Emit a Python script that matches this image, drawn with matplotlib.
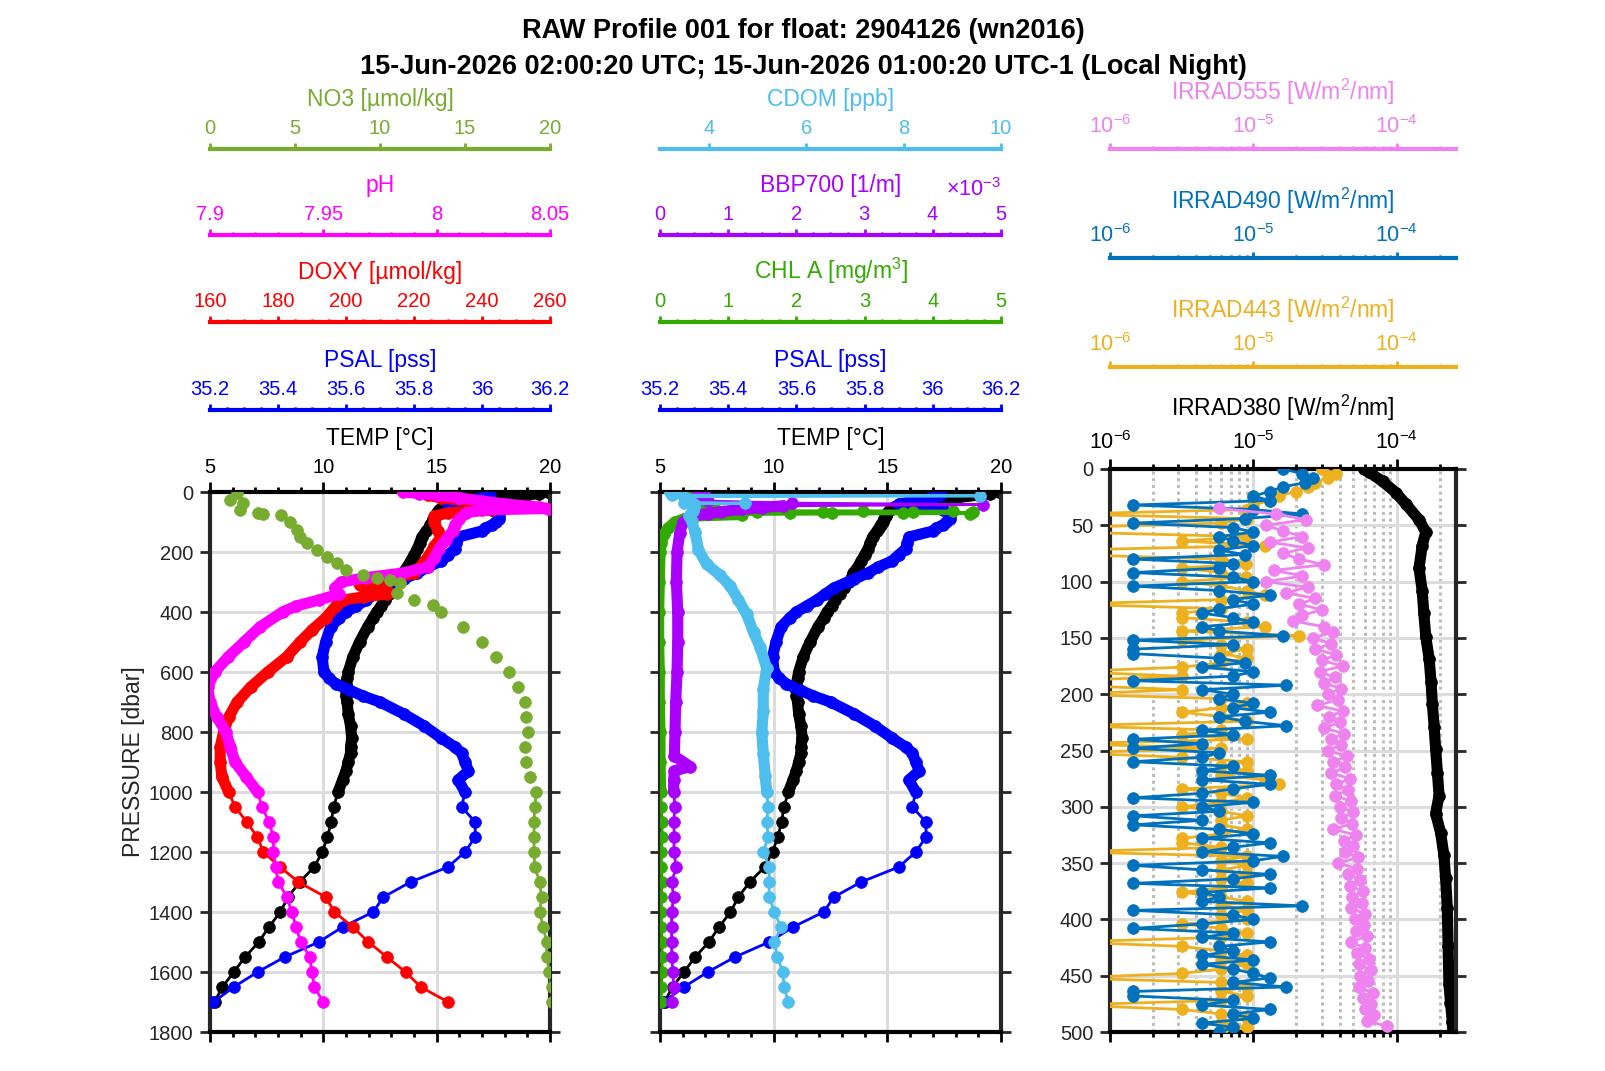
import numpy as np
import matplotlib
matplotlib.use('Agg')
import matplotlib.pyplot as plt
from matplotlib.ticker import (MultipleLocator, FuncFormatter, ScalarFormatter,
                               LogLocator, NullFormatter)

plt.rcParams['font.family'] = ['Liberation Sans', 'DejaVu Sans']
plt.rcParams['mathtext.fontset'] = 'custom'
plt.rcParams['mathtext.rm'] = 'Liberation Sans'
plt.rcParams['mathtext.it'] = 'Liberation Sans:italic'
plt.rcParams['mathtext.bf'] = 'Liberation Sans:bold'

TITLE1 = 'RAW Profile 001 for float: 2904126 (wn2016)'
TITLE2 = '15-Jun-2026 02:00:20 UTC; 15-Jun-2026 01:00:20 UTC-1 (Local Night)'

# ---------------- data ----------------
PRES_CTD = [0, 5, 10, 20, 30, 40, 50, 60, 70, 80, 90, 100, 110, 120, 130, 150, 170, 190,
            210, 230, 250, 270, 290, 300, 320, 340, 360, 380, 400, 420, 450, 500, 550,
            600, 620, 640, 660, 680, 700, 740, 780, 820, 850, 870, 900, 930, 960, 1000,
            1050, 1100, 1150, 1200, 1250, 1300, 1350, 1400, 1450, 1500, 1550, 1600, 1650, 1700]
TEMP = [19.9, 19.5, 19.0, 18.0, 17.0, 16.0, 15.3, 15.1, 15.0, 14.95,
        14.85, 14.8, 14.7, 14.65, 14.55, 14.35, 14.25, 14.15,
        14.0, 13.85, 13.7, 13.5, 13.4, 13.3, 13.1, 12.9, 12.7, 12.55,
        12.35, 12.2, 11.95, 11.6, 11.3,
        11.1, 11.05, 11.0, 11.0, 11.0, 11.05,
        11.1, 11.2, 11.25, 11.2, 11.2, 11.1, 11.0, 10.85, 10.65,
        10.45, 10.35, 10.18, 9.95, 9.6, 8.95, 8.45, 8.1, 7.6, 7.15, 6.55, 6.05, 5.55, 5.2]
PSAL = [36.01, 36.02, 36.02, 36.00, 35.95, 35.90, 35.98, 36.03, 36.05, 36.05,
        36.05, 36.04, 36.03, 36.01, 36.0, 35.93, 35.925, 35.92,
        35.9, 35.88, 35.84, 35.81, 35.77, 35.75, 35.71, 35.685, 35.66, 35.63,
        35.60, 35.58, 35.555, 35.54, 35.53,
        35.535, 35.55, 35.57, 35.61, 35.65, 35.70,
        35.77, 35.83, 35.88, 35.92, 35.94, 35.95, 35.96, 35.93, 35.95,
        35.94, 35.98, 35.98, 35.95, 35.90, 35.79, 35.71, 35.68, 35.59, 35.52, 35.42, 35.34,
        35.27, 35.21]

PRES_DOXY = [0, 10, 20, 30, 40, 50, 60, 70, 80, 100, 130, 150, 180, 210, 240, 270,
             290, 300, 310, 320, 330, 340, 350, 360, 380, 420, 460, 500, 550, 600, 650,
             700, 750, 800, 850, 900, 950, 1000,
             1050, 1100, 1150, 1200, 1250, 1300, 1350, 1400, 1450, 1500, 1550, 1600, 1650, 1700]
DOXY = [222, 224, 228, 236, 245, 250, 243, 230, 226, 226, 227, 228, 226, 224.5, 222.5, 220,
        214, 208, 204, 206, 212, 212, 205, 199, 197, 194, 190, 186.5, 182.5, 177, 172,
        168, 165.5, 164, 163, 163, 163.5, 165.5,
        167.4, 170.8, 173.9, 175.7, 180.6, 186, 194, 196.6, 202, 206.6, 212, 217.5, 222, 230]

PRES_PH = [0, 5, 10, 20, 30, 40, 50, 55, 60, 70, 90, 110, 130, 160, 190, 220, 250, 270,
           285, 300, 320, 340, 360, 380, 400, 450, 500, 550, 600, 650, 700, 750, 800, 850,
           900, 950, 1000,
           1050, 1100, 1150, 1200, 1250, 1300, 1350, 1400, 1450, 1500, 1550, 1600, 1650, 1700]
PH = [7.985, 7.992, 8.0, 8.01, 8.02, 8.03, 8.045, 8.049, 8.02, 8.013,
      8.01, 8.008, 8.007, 8.004, 8.001, 7.999, 7.996, 7.985, 7.969, 7.958,
      7.955, 7.957, 7.948, 7.938, 7.932, 7.922, 7.915, 7.908, 7.902, 7.899,
      7.9, 7.903, 7.907, 7.909, 7.911, 7.916, 7.921,
      7.923, 7.926, 7.928, 7.928, 7.929, 7.93, 7.934, 7.936, 7.938, 7.94, 7.944, 7.945,
      7.946, 7.95]

PRES_NO3 = [4, 27, 37, 60, 69, 72, 77, 99, 127, 149, 171, 193, 216, 238, 260, 277, 288, 293,
            304, 338, 361, 378, 400, 450, 500, 550, 600, 650, 700, 750, 800, 850, 900, 950,
            1000, 1050, 1100, 1150, 1200, 1250, 1300, 1350, 1400, 1450, 1500, 1550, 1600,
            1650, 1700]
NO3 = [1.57, 1.18, 1.96, 1.76, 2.84, 3.1, 4.2, 4.7, 5.1, 5.3,
       5.7, 6.3, 6.9, 7.45, 8.0, 9.0, 9.8, 10.6, 11.2, 10.98,
       12.0, 13.1, 13.6, 14.9, 16.0, 16.8, 17.6, 18.1, 18.5, 18.6,
       18.7, 18.5, 18.6, 18.8, 19.2,
       19.1, 19.06, 19.06, 19.06, 19.1, 19.4, 19.5, 19.4, 19.6, 19.8, 19.8, 19.96, 20.1, 20.1]

PRES_CHL = [0, 5, 10, 20, 30, 40, 50, 58, 62, 63, 64, 65, 66, 67, 68, 69, 70, 71, 72,
            75, 80, 90, 100, 120, 140, 170, 200, 300, 400, 500, 600, 700, 800, 900, 1000,
            1050, 1100, 1150, 1200, 1250, 1300, 1350, 1400, 1450, 1500, 1550, 1600, 1650, 1700]
CHLA = [0.3, 0.35, 0.4, 0.45, 0.5, 0.55, 0.6, 0.8,
        1.07, 2.98, 4.3, 1.42, 3.71, 2.39, 4.59, 1.91, 3.56, 2.52, 4.55,
        1.2, 0.5, 0.35, 0.22, 0.12, 0.06, 0.02, 0.0,
        -0.01, -0.02, -0.02, -0.01, -0.01, 0.0, 0.0, 0.01,
        0.02, 0.03, 0.03, 0.02, 0.02, 0.03, 0.02, 0.02, 0.02, 0.03, 0.03, 0.03, 0.02, 0.02]

PRES_BBP = [0, 5, 10, 20, 30, 37, 42, 46, 52, 58, 65, 72, 80, 90, 100, 135,
            200, 300, 400, 500, 600, 700, 800, 880, 915, 930, 960, 1000,
            1050, 1100, 1150, 1200, 1250, 1300, 1350, 1400, 1450, 1500, 1550, 1600, 1650, 1700]
BBP700 = [0.64e-3, 0.60e-3, 0.55e-3, 0.50e-3, 0.70e-3, 1.93e-3, 4.74e-3, 1.80e-3, 1.50e-3,
          1.20e-3, 0.90e-3, 0.70e-3, 0.50e-3, 0.40e-3, 0.34e-3, 0.29e-3,
          0.25e-3, 0.24e-3, 0.26e-3, 0.26e-3, 0.25e-3, 0.23e-3, 0.22e-3,
          0.21e-3, 0.44e-3, 0.21e-3, 0.20e-3, 0.20e-3,
          0.22e-3, 0.20e-3, 0.21e-3, 0.20e-3, 0.24e-3, 0.17e-3, 0.20e-3, 0.17e-3, 0.17e-3,
          0.17e-3, 0.17e-3, 0.19e-3, 0.20e-3, 0.17e-3]

PRES_CDOM = [0, 2, 5, 10, 13, 16, 25, 35, 37, 40, 50, 62, 80, 98, 134, 193, 241, 277, 313,
             360, 408, 468, 515, 587, 658, 730, 802, 873, 945, 1000,
             1050, 1100, 1150, 1200, 1250, 1300, 1350, 1400, 1450, 1500, 1550, 1600, 1650, 1700]
CDOM = [3.2, 3.3, 3.25, 3.25, 9.57, 3.5, 3.6, 3.5, 4.74, 3.7,
        3.7, 3.68, 3.6, 3.65, 3.72,
        3.79, 3.96, 4.23, 4.44, 4.61, 4.78, 4.92, 5.05, 5.19,
        5.12, 5.12, 5.09, 5.12, 5.16, 5.19,
        5.22, 5.19, 5.22, 5.12, 5.24, 5.24, 5.24, 5.35, 5.48, 5.35, 5.41, 5.52, 5.55, 5.63]

# radiometry, values in 1e-6 W/m^2/nm
PRES_380 = [0, 3, 11, 21, 31, 45, 56, 68, 88, 108, 128, 149, 169, 189, 209, 229, 249, 270,
            290, 306, 323, 343, 363, 390, 424, 457, 474, 491, 500]
IRR380 = [58.9, 64.6, 79.8, 98.9, 116, 143.5, 160, 151, 143.5, 151, 155, 160, 169, 174,
          178, 183, 187.5, 193, 198, 187.5, 203, 214, 220, 226, 229, 232, 238, 245, 247]

PRES_555 = np.arange(35, 500, 5)
IRR555 = [5.8, 14.5, 23.4, 12.3, 16, 22, 13, 24, 16, 21,
          31, 14, 22, 12.3, 24, 17, 27, 21, 30, 22,
          19, 31, 36, 26, 35, 27, 38, 30, 42, 29,
          37, 31, 41, 33, 39, 28, 42, 34, 40, 31,
          43, 35, 41, 33, 45, 36, 44, 35, 47, 38,
          46, 37, 48, 40, 50, 41, 49, 36, 52, 43,
          50, 44, 54, 39, 53, 46, 56, 47, 58, 49,
          57, 48, 60, 51, 59, 52, 62, 48, 60, 53,
          64, 55, 66, 56, 63, 55, 68, 58, 66, 60,
          70, 62, 86]

PRES_BLUE = np.arange(0, 501, 4)
IRR490 = [16, 22, 26, 23, 16, 13, 10, 13, 1.45, 10,
          22, 8.7, 1.45, 7.2, 10, 5.8, 7.2, 10, 5.8, 8.7,
          1.45, 7.2, 5.8, 1.45, 7.2, 10, 1.45, 5.8, 13, 7.2,
          10, 5.8, 4.4, 7.2, 10, 4.4, 5.8, 16, 1.45, 7.2,
          1.45, 1.45, 5.8, 8.7, 4.4, 10, 7.2, 1.45, 17, 4.4,
          7.2, 5.8, 10, 7.2, 13, 5.8, 8.7, 17, 4.4, 7.2,
          1.45, 4.4, 1.45, 5.8, 4.4, 1.45, 7.2, 4.4, 13, 4.4,
          13, 7.2, 4.4, 1.45, 10, 4.4, 5.8, 1.45, 4.4, 1.45,
          5.8, 10, 4.4, 13, 7.2, 4.4, 16, 10, 1.45, 4.4,
          13, 7.2, 1.45, 13, 4.4, 5.8, 4.4, 22, 1.45, 7.2,
          10, 4.4, 1.45, 7.2, 4.4, 13, 5.8, 7.2, 4.4, 10,
          4.4, 7.2, 10, 13, 7.2, 17, 1.45, 1.45, 7.2, 4.4,
          13, 7.2, 10, 4.4, 7.2, 5.8]
IRR443 = [30, 38, 33, 27, 24, 20, 15, 13, 10, 8.9,
          0.5, 9, 6, 0.5, 0.5, 8.9, 3.2, 12, 0.5, 0.5,
          6, 8.9, 3.2, 6, 8.9, 3.2, 6, 9, 12, 6,
          0.5, 6, 3.2, 3.2, 9, 12, 3.2, 21, 3.2, 6,
          9, 6, 9, 6, 3.2, 0.5, 3.2, 0.5, 0.5, 3.2,
          0.5, 6, 9, 6, 3.2, 6, 9, 0.5, 6, 3.2,
          9, 0.5, 6, 0.5, 3.2, 9, 6, 9, 6, 12,
          15, 3.2, 6, 9, 6, 3.2, 6, 9, 6, 6,
          9, 6, 3.2, 3.2, 6, 0.5, 9, 6, 9, 6,
          9, 6, 9, 6, 3.2, 6, 9, 6, 9, 6,
          9, 3.2, 6, 9, 6, 0.5, 3.2, 6, 9, 6,
          9, 6, 3.2, 0.5, 6, 9, 6, 9, 6, 0.5,
          3.2, 6, 9, 6, 9, 6]
MICRO = 1e-6

# colours
C_TEMP, C_PSAL, C_DOXY, C_PH, C_NO3 = 'k', '#0000ff', '#ff0000', '#ff00ff', '#77ac30'
C_CDOM, C_BBP, C_CHL = '#4dbeee', '#aa00ff', '#33aa00'
C_555, C_490, C_443, C_380 = '#ee82ee', '#0072bd', '#edb120', 'k'
AX_GREY = '#262626'

# ---------------- figure ----------------
W, H = 1606.0, 1071.0
fig = plt.figure(figsize=(W / 100, H / 100), dpi=100)


def box(x0, x1, ytop, ybot):
    return [x0 / W, 1 - ybot / H, (x1 - x0) / W, (ybot - ytop) / H]


def gfmt(v, pos):
    return '%g' % round(v, 6)


def in_ranges(p, ranges):
    keep = np.zeros(len(p), bool)
    for lo, hi in ranges:
        keep |= (p >= lo) & (p <= hi)
    return keep


def draw(ax, x, p, color, thick=None, line=None):
    x = np.asarray(x, float)
    p = np.asarray(p, float)
    ax.plot(x, p, 'o', color=color, ms=8.5, mec=color, mew=0.5)
    xl = x if line is None else np.where(in_ranges(p, line), x, np.nan)
    ax.plot(xl, p, '-', color=color, lw=2)
    if thick is not None:
        ax.plot(np.where(in_ranges(p, thick), x, np.nan), p, '-', color=color, lw=8,
                solid_capstyle='round', solid_joinstyle='round')


def add_scale(host, off_px, color, label, log=False):
    tw = host.twiny()
    if log:
        tw.set_xscale('log')
    for s in ('bottom', 'left', 'right'):
        tw.spines[s].set_visible(False)
    sp = tw.spines['top']
    sp.set_position(('outward', off_px * 0.72))
    sp.set_color(color)
    sp.set_linewidth(3)
    tw.tick_params(axis='x', which='major', colors=color, direction='out', length=4,
                   width=2, labelsize=15.5 if log else 14.5, pad=4)
    tw.tick_params(axis='x', which='minor', colors=color, direction='out', length=2.5,
                   width=2)
    tw.set_xlabel(label, color=color, fontsize=16.5, labelpad=11 if log else 9.5)
    return tw


def lin_ticks(ax, xlim, major, minor=None):
    ax.set_xlim(xlim)
    ax.xaxis.set_major_locator(MultipleLocator(major))
    if minor:
        ax.xaxis.set_minor_locator(MultipleLocator(minor))
    ax.xaxis.set_major_formatter(FuncFormatter(gfmt))


def log_ticks(ax, xlim):
    ax.set_xlim(xlim)
    ax.xaxis.set_major_locator(LogLocator(base=10, numticks=10))
    ax.xaxis.set_minor_locator(LogLocator(base=10, subs=np.arange(2, 10), numticks=30))
    ax.xaxis.set_minor_formatter(NullFormatter())


def finish_host(ax, label, ylim, ystep, ylabels, log=False):
    ax.set_ylim(ylim[1], ylim[0])
    ax.yaxis.set_major_locator(MultipleLocator(ystep))
    ax.xaxis.set_ticks_position('both')
    ax.xaxis.set_label_position('top')
    ax.yaxis.set_ticks_position('both')
    ax.tick_params(axis='x', which='both', labeltop=True, labelbottom=False)
    ax.tick_params(axis='both', which='major', direction='out', length=7, width=2,
                   labelsize=14.5, pad=4)
    if log:
        ax.tick_params(axis='x', which='major', labelsize=15.5)
    ax.tick_params(axis='x', which='minor', direction='out', length=3.5, width=2)
    ax.tick_params(axis='y', colors=AX_GREY, labelleft=ylabels, pad=5)
    ax.set_xlabel(label, fontsize=16.5, labelpad=11 if log else 9)
    for s in ('left', 'right'):
        ax.spines[s].set_color(AX_GREY)
    for s in ax.spines.values():
        s.set_linewidth(3)
    ax.grid(True, which='major', color='#dcdcdc', lw=2.2)
    ax.set_axisbelow(True)


CTD_THICK = [(0, 1000)]

# ---------- left panel ----------
ax1 = fig.add_axes(box(210, 550, 492, 1032))
draw(ax1, TEMP, PRES_CTD, C_TEMP, CTD_THICK)
t = add_scale(ax1, 82, C_PSAL, 'PSAL [pss]')
draw(t, PSAL, PRES_CTD, C_PSAL, CTD_THICK)
lin_ticks(t, (35.2, 36.2), 0.2, 0.05)
t = add_scale(ax1, 170, C_DOXY, 'DOXY [µmol/kg]')
draw(t, DOXY, PRES_DOXY, C_DOXY, CTD_THICK)
lin_ticks(t, (160, 260), 20, 5)
t = add_scale(ax1, 257, C_PH, 'pH')
draw(t, PH, PRES_PH, C_PH, CTD_THICK)
lin_ticks(t, (7.9, 8.05), 0.05, 0.01)
t = add_scale(ax1, 343, C_NO3, 'NO3 [µmol/kg]')
draw(t, NO3, PRES_NO3, C_NO3, line=[(1000, 1800)])
lin_ticks(t, (0, 20), 5)
lin_ticks(ax1, (5, 20), 5, 1)
finish_host(ax1, 'TEMP [°C]', (0, 1800), 200, True)
ax1.set_ylabel('PRESSURE [dbar]', fontsize=16.5, color=AX_GREY, labelpad=3)

# ---------- middle panel ----------
ax2 = fig.add_axes(box(660, 1001, 492, 1032))
draw(ax2, TEMP, PRES_CTD, C_TEMP, CTD_THICK)
t = add_scale(ax2, 82, C_PSAL, 'PSAL [pss]')
draw(t, PSAL, PRES_CTD, C_PSAL, CTD_THICK)
lin_ticks(t, (35.2, 36.2), 0.2, 0.05)
t = add_scale(ax2, 170, C_CHL, 'CHL A [mg/m$^3$]')
draw(t, CHLA, PRES_CHL, C_CHL, [(0, 58), (75, 1000)])
lin_ticks(t, (0, 5), 1, 0.25)
t = add_scale(ax2, 257, C_BBP, 'BBP700 [1/m]')
draw(t, BBP700, PRES_BBP, C_BBP, [(0, 30), (46, 1000)])
t.set_xlim(0, 5e-3)
t.xaxis.set_major_locator(MultipleLocator(1e-3))
t.xaxis.set_minor_locator(MultipleLocator(0.25e-3))
sf = ScalarFormatter(useMathText=True)
sf.set_powerlimits((-2, 2))
t.xaxis.set_major_formatter(sf)
t.xaxis.get_offset_text().set_color(C_BBP)
t.xaxis.get_offset_text().set_fontsize(15.5)
t = add_scale(ax2, 343, C_CDOM, 'CDOM [ppb]')
draw(t, CDOM, PRES_CDOM, C_CDOM, [(0, 10), (40, 1000)])
lin_ticks(t, (3, 10), 2)
lin_ticks(ax2, (5, 20), 5, 1)
finish_host(ax2, 'TEMP [°C]', (0, 1800), 200, False)

# ---------- right panel ----------
ax3 = fig.add_axes(box(1110, 1456, 469, 1032))
ax3.set_xscale('log')
draw(ax3, np.array(IRR380) * MICRO, PRES_380, C_380, [(0, 500)])
t = add_scale(ax3, 102, C_443, 'IRRAD443 [W/m$^2$/nm]', log=True)
draw(t, np.array(IRR443) * MICRO, PRES_BLUE, C_443)
log_ticks(t, (1e-6, 2.6e-4))
t = add_scale(ax3, 211, C_490, 'IRRAD490 [W/m$^2$/nm]', log=True)
draw(t, np.array(IRR490) * MICRO, PRES_BLUE, C_490)
log_ticks(t, (1e-6, 2.6e-4))
t = add_scale(ax3, 320, C_555, 'IRRAD555 [W/m$^2$/nm]', log=True)
draw(t, np.array(IRR555) * MICRO, PRES_555, C_555)
log_ticks(t, (1e-6, 2.6e-4))
log_ticks(ax3, (1e-6, 2.6e-4))
finish_host(ax3, 'IRRAD380 [W/m$^2$/nm]', (0, 500), 50, True, log=True)
ax3.grid(True, which='minor', axis='x', color='#bdbdbd', lw=2.2, ls=(0, (1, 1.2)))

fig.text(0.5, 1 - 31 / H, TITLE1, ha='center', va='center', fontsize=19.5, fontweight='bold')
fig.text(0.5, 1 - 66.5 / H, TITLE2, ha='center', va='center', fontsize=19.5,
         fontweight='bold')

fig.savefig('out.png', dpi=100)
